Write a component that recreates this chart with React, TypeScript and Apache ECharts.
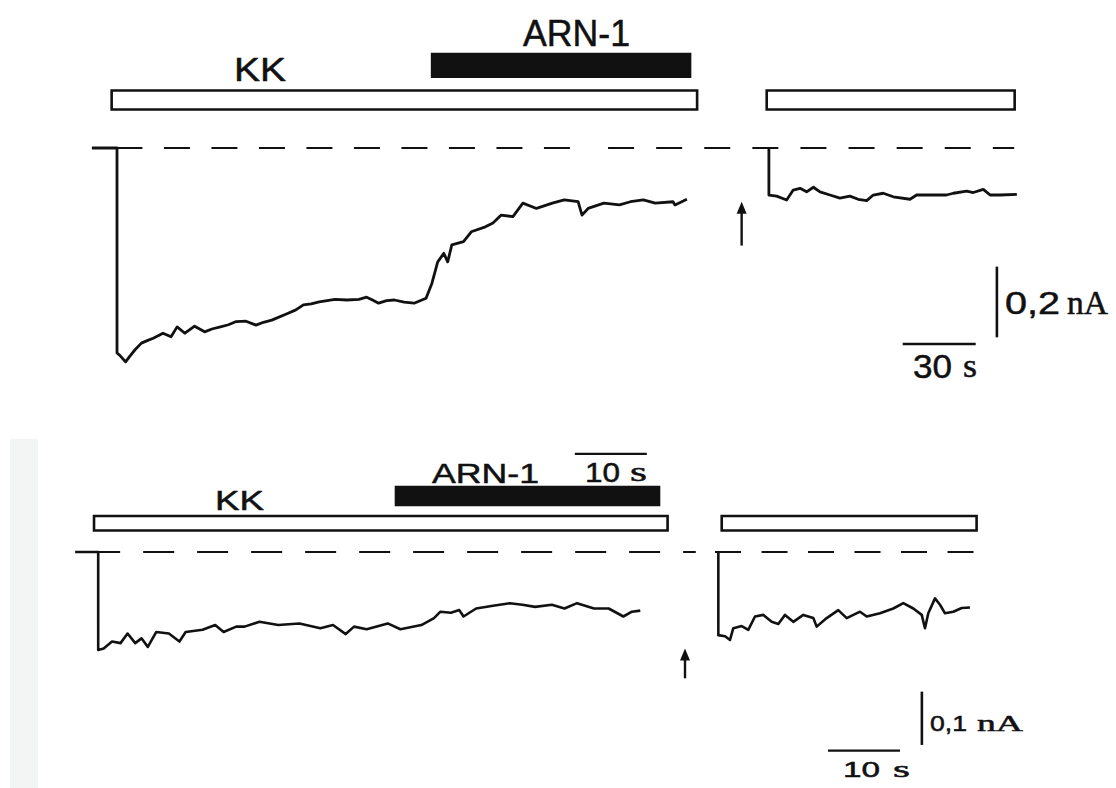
import React, { useEffect, useRef } from "react";
import * as echarts from "echarts";

// ---------- DATA (time in s, current in nA) ----------
// Top recording, first application (KK then KK + ARN-1)
const topTraceA: [number, number][] = [
  [-10.3, 0], [0, 0], [0, -0.58], [1.07, -0.586], [3.53, -0.605], [5.14, -0.59], [7.5, -0.57], [10.03, -0.552],
  [12.4, -0.545], [14.88, -0.538], [18.9, -0.524], [22.2, -0.534], [24.7, -0.506], [27.9, -0.524],
  [31.9, -0.504], [36.0, -0.52], [39.0, -0.512], [42.5, -0.506], [45.8, -0.5], [49.0, -0.491],
  [53.0, -0.49], [57.1, -0.501], [60.2, -0.493], [63.6, -0.487], [70.1, -0.468], [73.5, -0.458],
  [76.6, -0.444], [79.8, -0.441], [83.1, -0.435], [89.6, -0.428], [94.5, -0.43], [99.4, -0.428],
  [102.6, -0.422], [105.0, -0.43], [107.5, -0.439], [110.8, -0.432], [114.0, -0.43], [118.0, -0.436],
  [122.1, -0.439], [127.0, -0.425], [129.4, -0.383], [131.8, -0.322], [134.3, -0.298], [135.9, -0.322],
  [137.6, -0.274], [142.4, -0.265], [145.6, -0.237], [151.4, -0.223], [154.5, -0.212], [157.8, -0.19],
  [162.7, -0.194], [166.8, -0.156], [172.4, -0.171], [178.9, -0.156], [183.8, -0.147], [189.5, -0.152],
  [191.1, -0.19], [193.6, -0.171], [200.1, -0.156], [206.5, -0.161], [211.0, -0.152], [216.3, -0.147],
  [221.2, -0.156], [228.5, -0.152], [229.3, -0.161], [234.2, -0.145]
];
// Top recording, re-application of KK after wash
const topTraceB: [number, number][] = [
  [267.9, 0], [267.9, -0.133], [271.1, -0.136], [275.2, -0.147], [277.9, -0.119], [280.7, -0.114],
  [283.4, -0.124], [286.2, -0.111], [288.9, -0.124], [293.0, -0.133], [297.1, -0.142], [301.2, -0.136],
  [304.6, -0.145], [308.1, -0.149], [310.8, -0.133], [314.9, -0.128], [319.0, -0.138], [325.9, -0.145],
  [328.6, -0.133], [340.9, -0.133], [343.7, -0.128], [349.2, -0.122], [351.9, -0.126], [356.0, -0.117],
  [358.8, -0.133], [362.9, -0.133], [369.8, -0.131]
];
const topBaselineLeft: [number, number][] = [[-10.3, 0], [193.6, 0]];
const topBaselineRight: [number, number][] = [[201.8, 0], [368.7, 0]];
const topKK: [number, number][] = [[-2.2, 238.4], [267.0, 368.9]];
const topARN: [number, number][] = [[129.5, 235.5]];
const topArrow: [number, number, number][] = [[256.7, -0.152, -0.276]];
const topScaleTime: [number, number][] = [[322.9, -0.5545], [352.9, -0.5545]]; // 30 s
const topScaleCurrent: [number, number][] = [[361.6, -0.3356], [361.6, -0.5356]]; // 0.2 nA

// Bottom recording
const botTraceA: [number, number][] = [
  [-3.2, 0], [0, 0], [0, -0.184], [0.76, -0.181], [1.92, -0.168], [3.1, -0.171], [4.08, -0.153], [5.14, -0.171],
  [6.01, -0.162], [6.89, -0.178], [8.07, -0.15], [9.82, -0.153], [11.28, -0.168], [12.15, -0.15],
  [14.5, -0.146], [16.25, -0.137], [17.42, -0.15], [19.17, -0.14], [20.33, -0.14], [22.39, -0.131],
  [25.01, -0.137], [27.94, -0.134], [30.86, -0.143], [32.61, -0.137], [34.38, -0.154], [35.53, -0.14],
  [37.29, -0.145], [40.21, -0.134], [41.97, -0.145], [44.89, -0.137], [46.64, -0.124], [47.53, -0.112],
  [48.99, -0.114], [50.15, -0.109], [50.74, -0.121], [52.49, -0.106], [54.83, -0.101], [57.17, -0.096],
  [58.92, -0.099], [60.67, -0.103], [63.01, -0.099], [64.76, -0.106], [66.51, -0.096], [68.86, -0.106],
  [70.9, -0.106], [72.94, -0.121], [74.13, -0.112], [75.29, -0.11]
];
const botTraceB: [number, number][] = [
  [86.13, 0], [86.13, -0.156], [87.06, -0.158], [87.75, -0.165], [88.21, -0.143], [89.38, -0.139],
  [90.29, -0.146], [91.22, -0.121], [92.38, -0.118], [93.54, -0.131], [94.46, -0.135], [95.39, -0.118],
  [96.54, -0.131], [97.93, -0.118], [99.32, -0.124], [99.79, -0.14], [101.18, -0.124], [102.79, -0.109],
  [103.96, -0.124], [105.81, -0.112], [106.74, -0.121], [108.58, -0.115], [110.43, -0.106],
  [111.82, -0.096], [113.21, -0.106], [114.38, -0.118], [114.83, -0.143], [115.29, -0.115],
  [116.22, -0.087], [116.92, -0.099], [117.61, -0.115], [118.76, -0.112], [119.93, -0.105], [121.08, -0.104]
];
const botBaselineLeft: [number, number][] = [[-3.2, 0], [83.0, 0]];
const botBaselineRight: [number, number][] = [[85.67, 0], [122.7, 0]];
const botKK: [number, number][] = [[-0.58, 79.08], [86.6, 122.0]];
const botARN: [number, number][] = [[41.36, 77.89]];
const botArrow: [number, number, number][] = [[81.5, -0.181, -0.237]];
const botScaleTimeTop: [number, number][] = [[66.2, 0.184], [76.2, 0.184]]; // 10 s
const botScaleTime: [number, number][] = [[101.36, -0.3728], [111.36, -0.3728]]; // 10 s
const botScaleCurrent: [number, number][] = [[114.4, -0.262], [114.4, -0.362]]; // 0.1 nA

// ---------- LAYOUT ----------
const TOP = { x0: 117, pxS: 73 / 30, y0: 148, pxNA: 353.5, xMin: -12, xMax: 400, yMin: -0.7, yMax: 0.4,
  kkV: [0.1627, 0.1089], arnV: [0.2659, 0.2017] };
const BOT = { x0: 98.2, pxS: 7.2, y0: 552, pxNA: 533, xMin: -8, xMax: 130, yMin: -0.4, yMax: 0.22,
  kkV: [0.0675, 0.0403], arnV: [0.122, 0.0882] };

const INK = "#111";
const SANS = "'Liberation Sans', Arial, sans-serif";
const SERIF = "'Liberation Serif', 'Times New Roman', serif";

let measureCtx: CanvasRenderingContext2D | null = null;
function measure(text: string, font: string) {
  if (!measureCtx) measureCtx = document.createElement("canvas").getContext("2d");
  if (!measureCtx) return text.length * 10;
  measureCtx.font = font;
  return measureCtx.measureText(text).width;
}

// text fitted horizontally between x1 and x2, vertically centred on yc
function fit(text: string, family: string, size: number, x1: number, x2: number, yc: number) {
  const font = `${size}px ${family}`;
  const w = measure(text, font);
  return {
    type: "text",
    x: x1, y: yc, scaleX: (x2 - x1) / w,
    style: { text, fill: INK, font, align: "left", verticalAlign: "middle", stroke: INK, lineWidth: 0.5 },
    silent: true,
  };
}

function grid(L: typeof TOP) {
  return {
    left: L.x0 + L.xMin * L.pxS,
    width: (L.xMax - L.xMin) * L.pxS,
    top: L.y0 - L.yMax * L.pxNA,
    height: (L.yMax - L.yMin) * L.pxNA,
  };
}

function lineSeries(data: [number, number][], idx: number, width = 2.4, dash?: number[], dashOffset = 0) {
  return {
    type: "line",
    xAxisIndex: idx,
    yAxisIndex: idx,
    data,
    showSymbol: false,
    symbol: "none",
    silent: true,
    clip: false,
    lineStyle: { color: INK, width, type: dash || "solid", dashOffset, join: "round" },
  };
}

function barSeries(data: [number, number][], idx: number, v: number[], fill: string) {
  return {
    type: "custom",
    xAxisIndex: idx,
    yAxisIndex: idx,
    data,
    silent: true,
    renderItem: (_p: any, api: any) => {
      const a = api.coord([api.value(0), v[0]]);
      const b = api.coord([api.value(1), v[1]]);
      return {
        type: "rect",
        shape: { x: a[0], y: a[1], width: b[0] - a[0], height: b[1] - a[1] },
        style: { fill, stroke: INK, lineWidth: 2.6 },
      };
    },
  };
}

function arrowSeries(data: [number, number, number][], idx: number) {
  return {
    type: "custom",
    xAxisIndex: idx,
    yAxisIndex: idx,
    data,
    silent: true,
    renderItem: (_p: any, api: any) => {
      const tip = api.coord([api.value(0), api.value(1)]);
      const tail = api.coord([api.value(0), api.value(2)]);
      return {
        type: "group",
        children: [
          { type: "line", shape: { x1: tip[0], y1: tip[1] + 8, x2: tail[0], y2: tail[1] }, style: { stroke: INK, lineWidth: 2.4 } },
          { type: "polygon", shape: { points: [[tip[0], tip[1]], [tip[0] - 5, tip[1] + 12], [tip[0] + 5, tip[1] + 12]] }, style: { fill: INK } },
        ],
      };
    },
  };
}

export default function App() {
  const ref = useRef<HTMLDivElement>(null);
  useEffect(() => {
    if (!ref.current) return;
    const chart = echarts.init(ref.current, undefined, { renderer: "svg" });
    const axisOff = { show: false, splitLine: { show: false } };
    chart.setOption({
      animation: false,
      backgroundColor: "#ffffff",
      grid: [grid(TOP), grid(BOT)],
      xAxis: [
        { type: "value", gridIndex: 0, min: TOP.xMin, max: TOP.xMax, ...axisOff },
        { type: "value", gridIndex: 1, min: BOT.xMin, max: BOT.xMax, ...axisOff },
      ],
      yAxis: [
        { type: "value", gridIndex: 0, min: TOP.yMin, max: TOP.yMax, ...axisOff },
        { type: "value", gridIndex: 1, min: BOT.yMin, max: BOT.yMax, ...axisOff },
      ],
      graphic: [
        { type: "rect", shape: { x: 10, y: 439, width: 28, height: 349 }, style: { fill: "#f3f4f4" }, silent: true, z: -10 },
        fit("ARN-1", SANS, 36, 523, 630, 34),
        fit("KK", SANS, 34, 234, 286, 69),
        fit("0,2", SANS, 32, 1005, 1060, 303),
        fit("nA", SERIF, 33, 1067, 1108, 303),
        fit("30", SANS, 34, 913, 952, 366),
        fit("s", SERIF, 34, 963, 977, 366),
        fit("ARN-1", SANS, 28, 432, 539, 473.5),
        fit("KK", SANS, 27, 215, 264, 500.5),
        fit("10", SANS, 27, 585, 620, 472.5),
        fit("s", SERIF, 27, 630, 647, 472.5),
        fit("0,1", SANS, 22, 930, 967, 723),
        fit("nA", SERIF, 23, 977, 1023, 723),
        fit("10", SANS, 22, 843, 880, 769.5),
        fit("s", SERIF, 23, 893, 910, 769.5),
      ],
      series: [
        lineSeries(topBaselineLeft, 0, 2.2, [26, 21.5], 23),
        lineSeries(topBaselineRight, 0, 2.2, [26, 22.1], 0),
        barSeries(topKK, 0, TOP.kkV, "#ffffff"),
        barSeries(topARN, 0, TOP.arnV, INK),
        lineSeries(topTraceA, 0, 2.8),
        lineSeries(topTraceB, 0, 2.8),
        arrowSeries(topArrow, 0),
        lineSeries(topScaleTime, 0, 2.6),
        lineSeries(topScaleCurrent, 0, 2.6),
        lineSeries(botBaselineLeft, 1, 2.2, [31, 23], 40),
        lineSeries(botBaselineRight, 1, 2.2, [26, 20.5], 0),
        barSeries(botKK, 1, BOT.kkV, "#ffffff"),
        barSeries(botARN, 1, BOT.arnV, INK),
        lineSeries(botTraceA, 1, 2.6),
        lineSeries(botTraceB, 1, 2.6),
        arrowSeries(botArrow, 1),
        lineSeries(botScaleTimeTop, 1, 2.2),
        lineSeries(botScaleTime, 1, 2.2),
        lineSeries(botScaleCurrent, 1, 2.6),
      ],
    });
    return () => chart.dispose();
  }, []);
  return <div ref={ref} style={{ position: "absolute", left: 0, top: 0, width: 1116, height: 788 }} />;
}
